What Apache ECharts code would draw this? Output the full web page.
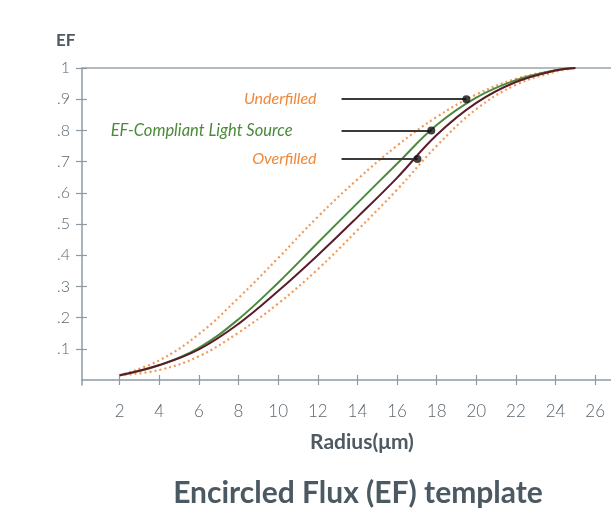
<!DOCTYPE html>
<html>
<head>
<meta charset="utf-8">
<script src="https://cdn.jsdelivr.net/npm/echarts@6/dist/echarts.min.js"></script>
<style>
  html, body { margin: 0; padding: 0; background: #fff; }
  #chart { width: 611px; height: 511px; }
</style>
</head>
<body>
<div id="chart"></div>
<script>
// radius (µm) at which the curves were read
const radius = [2, 4, 6, 8, 10, 12, 14, 16, 18, 20, 22, 24, 25]
const underY = [0.015, 0.063, 0.147, 0.263, 0.391, 0.523, 0.643, 0.751, 0.843, 0.915, 0.965, 0.993, 1.0]
const efY = [0.015, 0.047, 0.103, 0.195, 0.312, 0.44, 0.567, 0.693, 0.817, 0.905, 0.961, 0.993, 1.0]
const maroonY = [0.015, 0.048, 0.098, 0.18, 0.285, 0.40, 0.522, 0.648, 0.785, 0.888, 0.955, 0.992, 1.0]
const overY = [0.015, 0.032, 0.076, 0.152, 0.245, 0.355, 0.48, 0.61, 0.75, 0.868, 0.946, 0.988, 1.0]

// annotation points
const annotNames = ['Underfilled', 'EF-Compliant Light Source', 'Overfilled']
const annotX = [19.5, 17.73, 17.03]
const annotY = [0.9, 0.8, 0.708]
const leaderStartX = 13.2

const xTicks = [2, 4, 6, 8, 10, 12, 14, 16, 18, 20, 22, 24, 26]
const yTicks = [0.1, 0.2, 0.3, 0.4, 0.5, 0.6, 0.7, 0.8, 0.9, 1]

const pair = (xs, ys) => xs.map((x, i) => [x, ys[i]])

const axisColor = '#8e9aa3'
const textColor = '#5b6770'
const orange = '#f29a55'
const green = '#4a8a3a'
const maroon = '#5a1c28'

let myChart = echarts.init(document.getElementById('chart'))

let option = {
    backgroundColor: '#FFFFFF',
    animation: false,
    title: [
        {
            text: 'EF',
            left: 51,
            top: 27,
            textStyle: { fontFamily: 'Lato', fontWeight: 'bold', fontSize: 17, color: '#4e5a63' }
        },
        {
            text: 'Radius(μm)',
            left: 357,
            textAlign: 'center',
            top: 427,
            textStyle: { fontFamily: 'Lato', fontWeight: 'bold', fontSize: 21, color: '#4e5a63' }
        },
        {
            text: 'Encircled Flux (EF) template',
            left: 353,
            textAlign: 'center',
            top: 473,
            textStyle: { fontFamily: 'Lato', fontWeight: 'bold', fontSize: 30, color: '#4b5963' }
        }
    ],
    grid: {
        left: 82,
        right: 0,
        top: 68,
        bottom: 126
    },
    xAxis: [
        {
            type: 'value',
            min: 0.1,
            max: 26.8,
            axisLine: { onZero: true, lineStyle: { color: axisColor, width: 1.5 } },
            axisTick: { show: true, inside: true, length: 5, customValues: xTicks, lineStyle: { color: axisColor, width: 1.2 } },
            axisLabel: {
                customValues: xTicks,
                margin: 18,
                fontFamily: 'Lato',
                fontWeight: 300,
                fontSize: 17,
                color: textColor
            },
            splitLine: { show: false }
        },
        {
            type: 'value',
            min: 0.1,
            max: 26.8,
            position: 'bottom',
            axisLine: { show: false, onZero: true },
            axisTick: { show: true, inside: false, length: 5, customValues: xTicks, lineStyle: { color: axisColor, width: 1.2 } },
            axisLabel: { show: false },
            splitLine: { show: false }
        },
        {
            type: 'value',
            min: 0.1,
            max: 26.8,
            position: 'top',
            axisLine: { show: true, onZero: false, lineStyle: { color: '#b3bbc1', width: 2 } },
            axisTick: { show: false },
            axisLabel: { show: false },
            splitLine: { show: false }
        }
    ],
    yAxis: [
        {
            type: 'value',
            min: -0.016,
            max: 1,
            axisLine: { show: true, onZero: false, lineStyle: { color: axisColor, width: 1.5 } },
            axisTick: { show: true, inside: false, length: 6, customValues: yTicks, lineStyle: { color: axisColor, width: 1.2 } },
            axisLabel: {
                customValues: yTicks,
                margin: 12,
                fontFamily: 'Lato',
                fontWeight: 300,
                fontSize: 16,
                color: textColor,
                formatter: function(v) {
                    if (v >= 0.999) return '1'
                    return '.' + Math.round(v * 10)
                }
            },
            splitLine: { show: false }
        },
        {
            type: 'value',
            min: -0.016,
            max: 1,
            position: 'left',
            axisLine: { show: false, onZero: false },
            axisTick: { show: true, inside: true, length: 5, customValues: yTicks, lineStyle: { color: axisColor, width: 1.2 } },
            axisLabel: { show: false },
            splitLine: { show: false }
        }
    ],
    series: [
        {
            name: 'Underfilled',
            type: 'line',
            smooth: 0.4,
            showSymbol: false,
            data: pair(radius, underY),
            lineStyle: { color: orange, width: 2.2, type: [2, 3] },
            z: 2
        },
        {
            name: 'Overfilled',
            type: 'line',
            smooth: 0.4,
            showSymbol: false,
            data: pair(radius, overY),
            lineStyle: { color: orange, width: 2.2, type: [2, 3] },
            z: 2
        },
        {
            name: 'EF-Compliant Light Source',
            type: 'line',
            smooth: 0.4,
            showSymbol: false,
            data: pair(radius, efY),
            lineStyle: { color: green, width: 2 },
            z: 3
        },
        {
            name: 'EF target',
            type: 'line',
            smooth: 0.4,
            showSymbol: false,
            data: pair(radius, maroonY),
            lineStyle: { color: maroon, width: 2 },
            z: 3
        },
        {
            name: 'markers',
            type: 'scatter',
            symbol: 'circle',
            symbolSize: 8,
            itemStyle: { color: '#111111' },
            data: pair(annotX, annotY),
            z: 5,
            markLine: {
                silent: true,
                symbol: ['none', 'none'],
                lineStyle: { color: '#3a3a3a', width: 1.8, type: 'solid' },
                data: annotNames.map((name, i) => [
                    {
                        coord: [leaderStartX, annotY[i]],
                        label: {
                            show: true,
                            position: 'start',
                            formatter: name,
                            distance: i === 1 ? 49 : 25,
                            fontFamily: 'Lato',
                            fontStyle: 'italic',
                            fontSize: i === 1 ? 16.5 : 16,
                            color: i === 1 ? green : '#f0883a'
                        }
                    },
                    { coord: [annotX[i], annotY[i]] }
                ])
            }
        }
    ]
}
myChart.setOption(option)
window.addEventListener('resize', function() {
    myChart.resize()
})
</script>
</body>
</html>
